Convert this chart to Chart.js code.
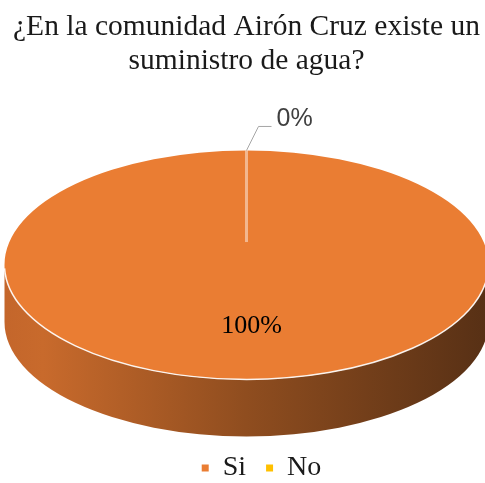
<!DOCTYPE html>
<html>
<head>
<meta charset="utf-8">
<script src="https://cdn.jsdelivr.net/npm/chart.js@4.4.0/dist/chart.umd.min.js"></script>
<style>
  html, body { margin: 0; padding: 0; background: #fff; }
  #wrap { width: 485px; height: 483px; }
</style>
</head>
<body>
<div id="wrap"><canvas id="pieChart" width="485" height="483"></canvas></div>
<script>
// datos de la grafica
const titleLines = ["¿En la comunidad Airón Cruz existe un", "suministro de agua?"];
const categories = ["Si", "No"];
const values = [100, 0];
const sliceColors = ["#EA7D33", "#FFC000"];

// plugin para simular el pastel 3D de Excel (cara superior aplastada + lateral)
const pie3d = {
  id: "pie3d",
  afterLayout(chart, args, opts) {
    // la leyenda del original esta un poco corrida
    const lg = chart.legend;
    if (lg && opts.legendShift) {
      lg.left += opts.legendShift.x; lg.right += opts.legendShift.x;
      lg.top += opts.legendShift.y; lg.bottom += opts.legendShift.y;
    }
  },
  beforeDatasetsDraw(chart, args, opts) {
    const arc = chart.getDatasetMeta(0).data[0];
    const x = arc.x, y = arc.y, r = arc.outerRadius;
    const k = opts.tilt, d = opts.depth;
    const ctx = chart.ctx;

    // lateral
    const g = ctx.createLinearGradient(x - r, 0, x + r, 0);
    g.addColorStop(0, "#C4662B");
    g.addColorStop(0.08, "#C86A2C");
    g.addColorStop(0.5, "#8F4D1F");
    g.addColorStop(1, "#573015");
    ctx.save();
    ctx.beginPath();
    ctx.ellipse(x, y, r, r * k, 0, 0, Math.PI);
    ctx.lineTo(x - r, y + d);
    ctx.ellipse(x, y + d, r, r * k, 0, Math.PI, 0, true);
    ctx.closePath();
    ctx.fillStyle = g;
    ctx.fill();
    ctx.restore();

    // la cara de arriba se dibuja aplastada
    ctx.save();
    ctx.translate(x, y);
    ctx.scale(1, k);
    ctx.translate(-x, -y);
  },
  afterDatasetsDraw(chart, args, opts) {
    const ctx = chart.ctx;
    ctx.restore();

    const meta = chart.getDatasetMeta(0);
    const arc0 = meta.data[0];
    const x = arc0.x, y = arc0.y, r = arc0.outerRadius;
    const k = opts.tilt;
    const total = values.reduce((a, b) => a + b, 0);

    // brillo en el borde delantero
    ctx.save();
    ctx.beginPath();
    ctx.ellipse(x, y, r, r * k, 0, 0.03, Math.PI - 0.03);
    ctx.strokeStyle = "rgba(255,255,255,0.9)";
    ctx.lineWidth = 1.5;
    ctx.stroke();
    ctx.restore();

    // separadores entre porciones
    const seen = {};
    meta.data.forEach(function (a) {
      const ang = a.startAngle;
      const key = (((ang % (2 * Math.PI)) + 2 * Math.PI) % (2 * Math.PI)).toFixed(3);
      if (seen[key]) return;
      seen[key] = true;
      ctx.save();
      ctx.beginPath();
      ctx.moveTo(x + Math.cos(ang) * r * 0.2, y + Math.sin(ang) * r * k * 0.2);
      ctx.lineTo(x + Math.cos(ang) * r, y + Math.sin(ang) * r * k);
      ctx.strokeStyle = "rgba(255,255,255,0.45)";
      ctx.lineWidth = 3;
      ctx.stroke();
      ctx.restore();
    });

    // etiquetas de porcentaje
    meta.data.forEach(function (a, i) {
      const pct = Math.round(values[i] / total * 100) + "%";
      const mid = (a.startAngle + a.endAngle) / 2;
      ctx.save();
      if (values[i] > 0) {
        const lx = x + 5 + Math.cos(mid) * r * 0.52;
        const ly = y + Math.sin(mid) * r * k * 0.52;
        ctx.font = "26px 'Liberation Serif', 'Times New Roman', serif";
        ctx.fillStyle = "#000";
        ctx.textAlign = "center";
        ctx.textBaseline = "middle";
        ctx.fillText(pct, lx, ly + 2);
      } else {
        const ex = x + Math.cos(mid) * r;
        const ey = y + Math.sin(mid) * r * k;
        ctx.beginPath();
        ctx.moveTo(ex, ey);
        ctx.lineTo(ex + 12, ey - 24);
        ctx.lineTo(ex + 25, ey - 24);
        ctx.strokeStyle = "#A6A6A6";
        ctx.lineWidth = 1;
        ctx.stroke();
        ctx.font = "25px 'Liberation Sans', Arial, sans-serif";
        ctx.fillStyle = "#404040";
        ctx.textAlign = "left";
        ctx.textBaseline = "middle";
        ctx.fillText(pct, ex + 30, ey - 31);
      }
      ctx.restore();
    });
  }
};

const ctx = document.getElementById("pieChart").getContext("2d");
const chart = new Chart(ctx, {
  type: "pie",
  data: {
    labels: categories,
    datasets: [{
      data: values,
      backgroundColor: sliceColors,
      borderWidth: 0,
      radius: 242,
      clip: false
    }]
  },
  options: {
    responsive: false,
    animation: false,
    events: [],
    layout: { padding: { top: 0, bottom: 0, left: 8, right: 0 } },
    plugins: {
      title: {
        display: true,
        text: titleLines,
        color: "#1a1a1a",
        font: { family: "'Liberation Serif', 'Times New Roman', serif", size: 29.5, weight: "normal", lineHeight: 1.15 },
        padding: { top: 10, bottom: 27 }
      },
      legend: {
        position: "bottom",
        labels: {
          boxWidth: 7,
          boxHeight: 7,
          padding: 20,
          color: "#1a1a1a",
          font: { family: "'Liberation Serif', 'Times New Roman', serif", size: 28 }
        }
      },
      tooltip: { enabled: false },
      pie3d: { tilt: 0.473, depth: 57, legendShift: { x: 15, y: 9 } }
    }
  },
  plugins: [pie3d]
});
</script>
</body>
</html>
